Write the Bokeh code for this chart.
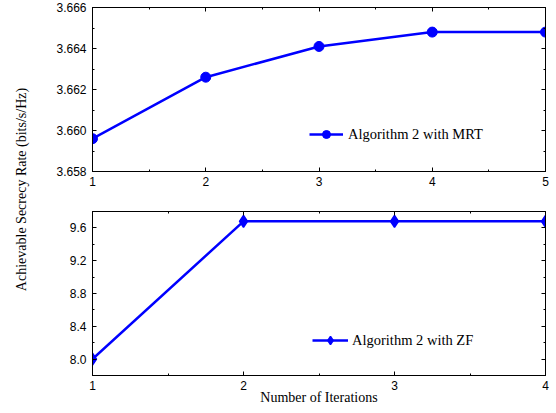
import numpy as np
from bokeh.plotting import figure
from bokeh.layouts import row, column
from bokeh.models import (Range1d, FixedTicker, NumeralTickFormatter, LinearAxis, Label)
from bokeh.embed import file_html
from bokeh.resources import INLINE

# ---- data ----
iters_mrt = [1, 2, 3, 4, 5]
rate_mrt = [3.6596, 3.6626, 3.6641, 3.6648, 3.6648]
iters_zf = [1, 2, 3, 4]
rate_zf = [8.0, 9.68, 9.68, 9.68]

label_mrt = "Algorithm 2 with MRT"
label_zf = "Algorithm 2 with ZF"
ylabel = "Achievable Secrecy Rate (bits/s/Hz)"
xlabel = "Number of Iterations"

mrt_yticks = [3.658, 3.660, 3.662, 3.664, 3.666]
zf_yticks = [8.0, 8.4, 8.8, 9.2, 9.6]

BLUE = "#0000FF"
TICK_FONT = "Liberation Sans"
SERIF = "Liberation Serif"


def style_axis(ax, show_labels=True):
    ax.axis_line_color = "black"
    ax.axis_line_width = 1
    ax.major_tick_in = 4
    ax.major_tick_out = 0
    ax.minor_tick_in = 2
    ax.minor_tick_out = 0
    ax.major_tick_line_color = "black"
    ax.minor_tick_line_color = "black"
    ax.major_label_text_font = TICK_FONT
    ax.axis_label_text_font = SERIF
    ax.axis_label_text_font_style = "normal"
    ax.axis_label_text_font_size = "14px"
    ax.axis_label_text_color = "black"
    if show_labels:
        ax.major_label_text_font_size = "12px"
        ax.major_label_text_color = "black"
    else:
        ax.major_label_text_font_size = "1px"
        ax.major_label_text_color = None
        ax.major_label_standoff = 0


def make_panel(xs, ys, xmax, yr, yticks, ystep, yfmt, marker, msize, mline,
               legend_label, leg_loc, glyph_w, standoff, height, bt, bb, xlab=None):
    p = figure(width=516, height=height, output_backend="svg", toolbar_location=None,
               x_range=Range1d(1, xmax), y_range=Range1d(*yr),
               min_border_left=52, min_border_right=11,
               min_border_top=bt, min_border_bottom=bb, x_axis_type=None, y_axis_type=None)
    p.grid.visible = False
    p.outline_line_color = "black"
    p.outline_line_width = 1
    p.background_fill_color = "white"
    p.border_fill_color = "white"

    xt = FixedTicker(ticks=list(range(1, xmax + 1)),
                     minor_ticks=list(np.arange(1.5, xmax, 1.0)))
    yt = FixedTicker(ticks=yticks,
                     minor_ticks=list(np.arange(yr[0], yr[1] + ystep / 2, ystep)))

    xb = LinearAxis(ticker=xt, formatter=NumeralTickFormatter(format="0"))
    style_axis(xb)
    xb.major_label_standoff = 5
    if xlab:
        xb.axis_label = xlab
        xb.axis_label_standoff = -3
    p.add_layout(xb, "below")
    xa = LinearAxis(ticker=xt)
    style_axis(xa, show_labels=False)
    p.add_layout(xa, "above")

    yl = LinearAxis(ticker=yt, formatter=NumeralTickFormatter(format=yfmt))
    style_axis(yl)
    yl.major_label_standoff = 6
    p.add_layout(yl, "left")
    yrr = LinearAxis(ticker=yt)
    style_axis(yrr, show_labels=False)
    p.add_layout(yrr, "right")

    p.line(xs, ys, line_color=BLUE, line_width=2.5, legend_label=legend_label)
    p.scatter(xs, ys, marker=marker, size=msize, line_width=mline,
              fill_color=BLUE, line_color=BLUE, legend_label=legend_label)

    lg = p.legend[0]
    lg.location = leg_loc
    lg.border_line_color = None
    lg.background_fill_alpha = 0
    lg.padding = 0
    lg.margin = 0
    lg.glyph_width = glyph_w
    lg.glyph_height = 20
    lg.label_height = 20
    lg.label_standoff = standoff
    lg.label_text_font = SERIF
    lg.label_text_font_size = "14.5px"
    lg.label_text_color = "black"
    return p


top = make_panel(iters_mrt, rate_mrt, 5, (3.658, 3.666), mrt_yticks, 0.001, "0.000",
                 "circle", 10, 1, label_mrt, (217, 27), 34, 5,
                 height=193, bt=7, bb=22)
bottom = make_panel(iters_zf, rate_zf, 4, (7.8, 9.8), zf_yticks, 0.2, "0.0",
                    "diamond", 12, 1.5, label_zf, (220, 25), 36, 4,
                    height=220, bt=18, bb=38, xlab=xlabel)

lab = figure(width=40, height=413, output_backend="svg", toolbar_location=None,
             x_range=Range1d(0, 40), y_range=Range1d(0, 413),
             min_border=0, x_axis_type=None, y_axis_type=None)
lab.grid.visible = False
lab.outline_line_color = None
lab.add_layout(Label(x=21, y=413 - 189, text=ylabel, angle=np.pi / 2,
                     text_align="center", text_baseline="middle",
                     text_font=SERIF, text_font_size="14px", text_color="black"))

layout = row(lab, column(top, bottom))
open("out.html", "w").write(file_html(layout, INLINE))
